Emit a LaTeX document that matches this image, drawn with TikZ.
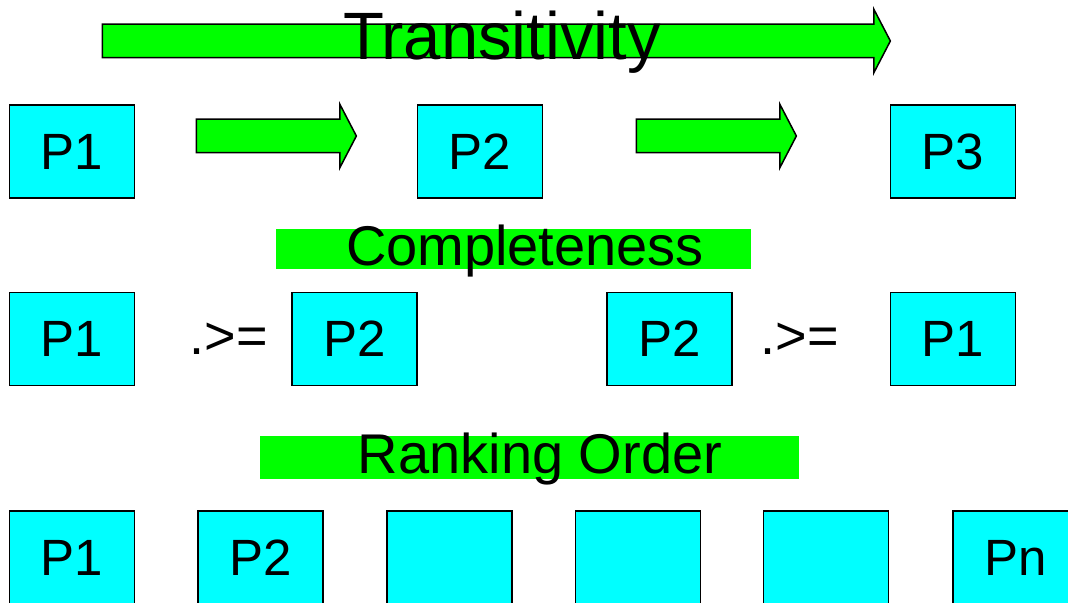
\documentclass[tikz,border=0pt]{standalone}
\usepackage{fontspec}
\setmainfont{Liberation Sans}
\usetikzlibrary{shapes.arrows}
\usepackage{xcolor}
\definecolor{boxcyan}{RGB}{0,255,255}
\definecolor{bargreen}{RGB}{0,255,0}

\begin{document}
\begin{tikzpicture}
  [x=0.5pt,y=-0.5pt,
   pbox/.style={rectangle,draw=black,line width=0.75pt,fill=boxcyan,
     minimum width=62.5pt,minimum height=46.5pt,inner sep=0pt,
     font=\fontsize{25.5}{30}\selectfont},
   rel/.style={inner sep=0pt,font=\fontsize{27}{32}\selectfont},
   bar/.style={rectangle,fill=bargreen,inner sep=0pt},
   title/.style={inner sep=0pt,anchor=base,font=\fontsize{28}{34}\selectfont},
   fat/.style={single arrow,draw=black,line width=0.75pt,fill=bargreen,
     inner sep=0pt,text height=16pt,text depth=0pt,
     single arrow head extend=7.5pt,single arrow tip angle=125}]
  \useasboundingbox (0,0) rectangle (1068,603);

  % transitivity
  \node[fat,minimum height=394pt] (tr) at (492,41) {};
  \node[title,font=\fontsize{33.5}{40}\selectfont] (trt) at (502,60) {Transitivity};

  \node[pbox] (t1) at (72,151.5)  {P1};
  \node[pbox] (t2) at (480,151.5) {P2};
  \node[pbox] (t3) at (953,151.5) {P3};
  \node[fat,minimum height=80pt] (a12) at (272,136) {};
  \node[fat,minimum height=80pt] (a23) at (712,136) {};

  % completeness
  \node[bar,minimum width=237.5pt,minimum height=20pt] (cbar) at (513.5,249) {};
  \node[title] (ctx) at (525,266) {Completeness};

  \node[pbox] (c1) at (72,339)    {P1};
  \node[rel]  (g1) at (229,339)   {.>=};
  \node[pbox] (c2) at (354.5,339) {P2};
  \node[pbox] (c3) at (669.5,339) {P2};
  \node[rel]  (g2) at (800,339)   {.>=};
  \node[pbox] (c4) at (953,339)   {P1};

  % ranking order
  \node[bar,minimum width=269.5pt,minimum height=21.5pt] (rbar) at (529.5,457.5) {};
  \node[title] (rtx) at (540,473) {Ranking Order};

  \foreach \n/\x/\t in {1/72/P1,2/260.5/P2,3/449.5/,4/638/,5/826/,6/1015.5/Pn}
    \node[pbox] (r\n) at (\x,557.5) {\t};

\end{tikzpicture}
\end{document}
